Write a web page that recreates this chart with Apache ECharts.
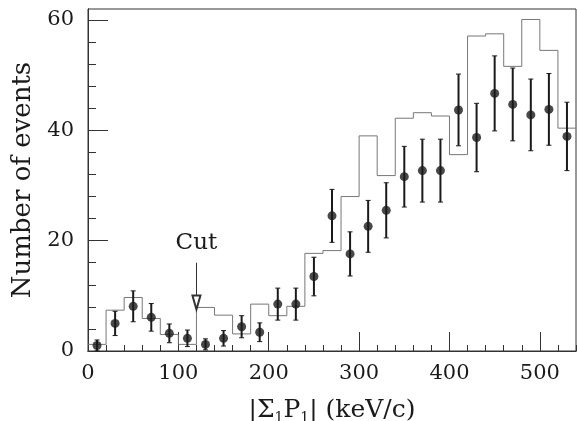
<!DOCTYPE html>
<html>
<head>
<meta charset="utf-8">
<script src="https://cdn.jsdelivr.net/npm/echarts@6/dist/echarts.min.js"></script>
<style>
  html, body { margin: 0; padding: 0; background: #fff; }
  #main { width: 577px; height: 421px; }
</style>
</head>
<body>
<div id="main"></div>
<script>
// bin centres in keV/c, every bin is 20 wide
const binCenters = [10, 30, 50, 70, 90, 110, 130, 150, 170, 190, 210, 230, 250, 270,
  290, 310, 330, 350, 370, 390, 410, 430, 450, 470, 490, 510, 530];
// simulated histogram
const histValues = [1.2, 7.4, 9.7, 5.9, 3.0, 1.2, 7.9, 6.5, 3.1, 8.5, 6.4, 8.1, 17.7, 18.2,
  28.0, 39.0, 31.8, 42.2, 43.2, 42.6, 35.6, 57.1, 57.5, 51.6, 60.1, 54.5, 40.4];
// measured points and their errors
const dataValues = [1.0, 5.0, 8.1, 6.1, 3.2, 2.3, 1.2, 2.3, 4.4, 3.4, 8.5, 8.5, 13.5, 24.5,
  17.6, 22.6, 25.5, 31.6, 32.7, 32.7, 43.7, 38.7, 46.7, 44.7, 42.8, 43.8, 38.9];
const dataErrors = [1.0, 2.2, 2.8, 2.5, 1.7, 1.5, 1.0, 1.4, 2.0, 1.7, 2.9, 2.9, 3.5, 4.8,
  4.0, 4.7, 5.0, 5.5, 5.7, 5.7, 6.5, 6.2, 6.8, 6.6, 6.5, 6.5, 6.2];

const xMajorTicks = [0, 100, 200, 300, 400, 500];
const xMinorTicks = [0, 20, 40, 60, 80, 100, 120, 140, 160, 180, 200, 220, 240, 260, 280,
  300, 320, 340, 360, 380, 400, 420, 440, 460, 480, 500, 520, 540];
const yMajorTicks = [0, 20, 40, 60];
const yMinorTicks = [0, 4, 8, 12, 16, 20, 24, 28, 32, 36, 40, 44, 48, 52, 56, 60];

// cut arrow: x position, top and bottom of the arrow
const cutX = 120;
const cutFrom = 16.0;
const cutTo = 8.8;

const FONT = 'DejaVu Serif';
const INK = '#1a1a1a';

// histogram as steps: left edge of each bin, then the right edge of the last one
let histSteps = binCenters.map((c, i) => [c - 10, histValues[i]]);
histSteps.push([binCenters[binCenters.length - 1] + 10, histValues[histValues.length - 1]]);

const points = binCenters.map((c, i) => [c, dataValues[i]]);
const bars = binCenters.map((c, i) => [c, dataValues[i] - dataErrors[i], dataValues[i] + dataErrors[i]]);

function xAxisBase(ticks, len, labels) {
  return {
    type: 'value', position: 'bottom', min: 0, max: 540,
    axisLine: { show: true, lineStyle: { color: '#333', width: 1 } },
    axisTick: { show: true, inside: true, length: len, customValues: ticks, lineStyle: { color: '#333', width: 1 } },
    axisLabel: labels ? { show: true, customValues: ticks, margin: 12, color: INK, fontFamily: FONT, fontSize: 21 } : { show: false },
    splitLine: { show: false }
  };
}
function yAxisBase(ticks, len, labels) {
  return {
    type: 'value', position: 'left', min: 0, max: 62,
    axisLine: { show: true, lineStyle: { color: '#333', width: 1 } },
    axisTick: { show: true, inside: true, length: len, customValues: ticks, lineStyle: { color: '#333', width: 1 } },
    axisLabel: labels ? { show: true, customValues: ticks, margin: 14, color: INK, fontFamily: FONT, fontSize: 21 } : { show: false },
    splitLine: { show: false }
  };
}

const xMain = xAxisBase(xMajorTicks, 19, true);
xMain.name = '|Σ{s|1}P{s|1}| (keV/c)';
xMain.nameLocation = 'middle';
xMain.nameGap = 44;
xMain.nameTextStyle = {
  color: INK, fontFamily: FONT, fontSize: 25, lineHeight: 30,
  rich: { s: { fontFamily: FONT, fontSize: 14, lineHeight: 30, verticalAlign: 'bottom', color: INK } }
};

const yMain = yAxisBase(yMajorTicks, 20, true);
yMain.name = 'Number of events';
yMain.nameLocation = 'middle';
yMain.nameGap = 52;
yMain.nameTextStyle = { color: INK, fontFamily: FONT, fontSize: 26 };

const chart = echarts.init(document.getElementById('main'));
chart.setOption({
  animation: false,
  backgroundColor: '#fff',
  grid: {
    left: 88, right: 1, top: 9, bottom: 70,
    outerBoundsMode: 'none', containLabel: false,
    show: true, borderColor: '#333', borderWidth: 1
  },
  xAxis: [xMain, xAxisBase(xMinorTicks, 6, false)],
  yAxis: [yMain, yAxisBase(yMinorTicks, 8, false)],
  series: [
    {
      type: 'line',
      data: histSteps,
      step: 'end',
      showSymbol: false,
      lineStyle: { color: '#777', width: 1 },
      z: 1
    },
    {
      type: 'custom',
      data: bars,
      encode: { x: 0, y: [1, 2] },
      renderItem: function (params, api) {
        const x = api.value(0);
        const top = api.coord([x, api.value(2)]);
        const bot = api.coord([x, api.value(1)]);
        const w = 2.5;
        return {
          type: 'group',
          children: [
            { type: 'line', shape: { x1: top[0], y1: top[1], x2: bot[0], y2: bot[1] }, style: { stroke: INK, lineWidth: 2 } },
            { type: 'line', shape: { x1: top[0] - w, y1: top[1], x2: top[0] + w, y2: top[1] }, style: { stroke: INK, lineWidth: 1 } },
            { type: 'line', shape: { x1: bot[0] - w, y1: bot[1], x2: bot[0] + w, y2: bot[1] }, style: { stroke: INK, lineWidth: 1 } }
          ]
        };
      },
      z: 2
    },
    {
      type: 'scatter',
      data: points,
      symbol: 'circle',
      symbolSize: 9,
      itemStyle: { color: INK },
      z: 3,
      markLine: {
        silent: true,
        symbol: ['none', 'emptyTriangle'],
        symbolSize: [8, 14],
        lineStyle: { color: '#333', width: 1, type: 'solid' },
        label: { show: true, position: 'start', distance: 8, formatter: 'Cut', color: INK, fontFamily: FONT, fontSize: 23 },
        data: [[{ coord: [cutX, cutFrom] }, { coord: [cutX, cutTo] }]]
      }
    }
  ]
});
</script>
</body>
</html>
